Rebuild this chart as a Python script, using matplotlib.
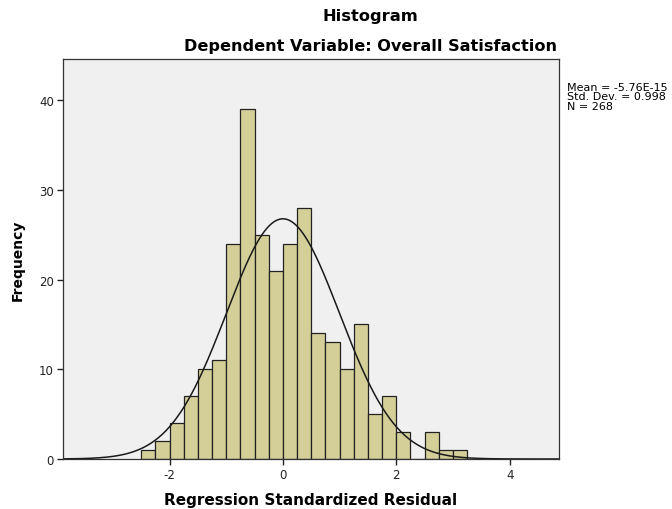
import numpy as np
import matplotlib
matplotlib.use("Agg")
import matplotlib.pyplot as plt

# Histogram of regression standardized residuals (bin width 0.25)
bin_edges = np.arange(-2.5, 3.25 + 0.001, 0.25)
counts = [1, 2, 4, 7, 10, 11, 24, 39, 25, 21, 24, 28,
          14, 13, 10, 15, 5, 7, 3, 0, 3, 1, 1]
mean_val = -5.76e-15
std_val = 0.998
n_obs = 268
stats_lines = ["Mean = -5.76E-15", "Std. Dev. = 0.998", "N = 268"]

plt.rcParams['font.family'] = ['DejaVu Sans']
plt.rcParams['axes.unicode_minus'] = False

fig = plt.figure(figsize=(6.72, 5.1), dpi=100)
ax = fig.add_axes([63 / 672, 50 / 510, 496 / 672, 400 / 510])
ax.set_facecolor('#f0f0f0')

widths = np.diff(bin_edges)
ax.bar(bin_edges[:-1], counts, width=widths, align='edge',
       color='#d4cf98', edgecolor='#222222', linewidth=0.9)

# normal curve scaled to counts
xs = np.linspace(-3.9, 4.9, 400)
bw = widths[0]
ys = n_obs * bw / (std_val * np.sqrt(2 * np.pi)) * np.exp(-0.5 * ((xs - mean_val) / std_val) ** 2)
ax.plot(xs, ys, color='#1a1a1a', linewidth=1.1)

ax.set_xlim(-3.88, 4.87)
ax.set_ylim(0, 44.6)
ax.set_xticks([-2, 0, 2, 4])
ax.set_yticks([0, 10, 20, 30, 40])
ax.tick_params(direction='out', length=4.5, width=1, labelsize=8.5, colors='#222222', pad=2)
for s in ax.spines.values():
    s.set_color('#333333')
    s.set_linewidth(0.9)

ax.set_xlabel('Regression Standardized Residual', fontsize=11, fontweight='bold', labelpad=8)
ax.set_ylabel('Frequency', fontsize=10, fontweight='bold', labelpad=10)

fig.text(370 / 672, 1 - 16 / 510, 'Histogram', ha='center', va='center',
         fontsize=11.7, fontweight='bold')
fig.text(370 / 672, 1 - 47 / 510, 'Dependent Variable: Overall Satisfaction',
         ha='center', va='center', fontsize=11.6, fontweight='bold')
fig.text(567 / 672, 1 - 83 / 510, "\n".join(stats_lines), ha='left', va='top',
         fontsize=8, linespacing=0.92)

fig.savefig('out.png', dpi=100)
